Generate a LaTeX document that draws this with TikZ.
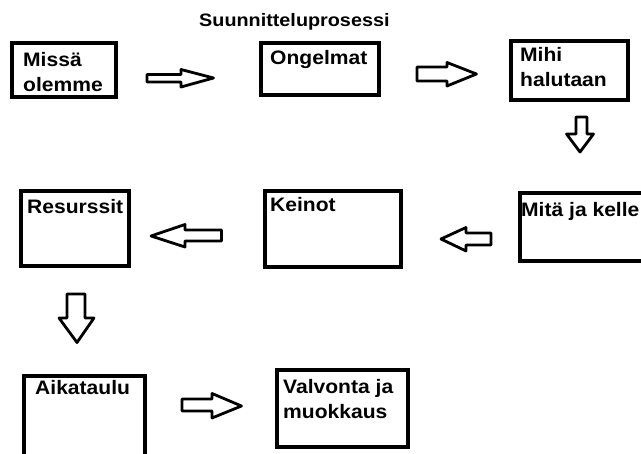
\documentclass[tikz,border=0pt]{standalone}
\usepackage{fontspec}
\setmainfont{Liberation Sans}[FakeStretch=1.08]
\newfontfamily\titlefont{Liberation Sans}[FakeStretch=1.1]
\begin{document}
\begin{tikzpicture}[x=1pt,y=-1pt,
  box/.style={draw=black,line width=3.3pt,line join=miter},
  barrow/.style={draw=black,line width=2.8pt,line join=round,fill=white},
  lbl/.style={anchor=base west,inner sep=0pt,font=\fontsize{19.5}{25}\selectfont\bfseries}]
\useasboundingbox (0,0) rectangle (641,454);
\fill[white] (0,0) rectangle (641,454);
\begin{scope}
\clip (0,0) rectangle (641,454);
% boxes
\draw[box] (12,43) rectangle (116,97) coordinate (b1);
\draw[box] (261,43) rectangle (379,95) coordinate (b2);
\draw[box] (511,41) rectangle (628,100) coordinate (b3);
\draw[box] (21,191) rectangle (129,266) coordinate (b4);
\draw[box] (265,191) rectangle (401,267) coordinate (b5);
\draw[box] (520,193) rectangle (665,261) coordinate (b6);
\draw[box] (24,376) rectangle (145,475) coordinate (b7);
\draw[box] (277,370) rectangle (408,447) coordinate (b8);
% block arrows
\draw[barrow] (147,74.5) -- (181,74.5) -- (181,69.5) -- (213.5,78) -- (181,87) -- (181,82) -- (147,82) -- cycle;
\draw[barrow] (417,67) -- (447,67) -- (447,62.5) -- (476.5,74) -- (447,86) -- (447,81) -- (417,81) -- cycle;
\draw[barrow] (576,117) -- (587,117) -- (587,134) -- (593.5,134) -- (580,152) -- (566.5,134) -- (576,134) -- cycle;
\draw[barrow] (221.5,230) -- (185,230) -- (185,224.5) -- (151,236) -- (185,247) -- (185,241) -- (221.5,241) -- cycle;
\draw[barrow] (491,233) -- (466,233) -- (466,227.5) -- (441,239) -- (466,251) -- (466,245) -- (491,245) -- cycle;
\draw[barrow] (67,294) -- (85,294) -- (85,318) -- (94,318) -- (77,342.5) -- (59,318) -- (67,318) -- cycle;
\draw[barrow] (182,399) -- (212,399) -- (212,393.5) -- (241.5,406) -- (212,418) -- (212,411) -- (182,411) -- cycle;
% labels
\node[lbl,font=\fontsize{18}{22}\titlefont\bfseries] (title) at (199,26.3) {Suunnitteluprosessi};
\node[lbl] (t1) at (23,66.7) {\begin{tabular}[t]{@{}l@{}}Missä\\olemme\end{tabular}};
\node[lbl] (t2) at (270,65) {Ongelmat};
\node[lbl] (t3) at (520,62) {\begin{tabular}[t]{@{}l@{}}Mihi\\halutaan\end{tabular}};
\node[lbl] (t4) at (27,213.5) {Resurssit};
\node[lbl] (t5) at (270,211.7) {Keinot};
\node[lbl] (t6) at (521,216.7) {Mitä ja kelle};
\node[lbl] (t7) at (35,395) {Aikataulu};
\node[lbl] (t8) at (283,394) {\begin{tabular}[t]{@{}l@{}}Valvonta ja\\muokkaus\end{tabular}};
\end{scope}
\end{tikzpicture}
\end{document}
